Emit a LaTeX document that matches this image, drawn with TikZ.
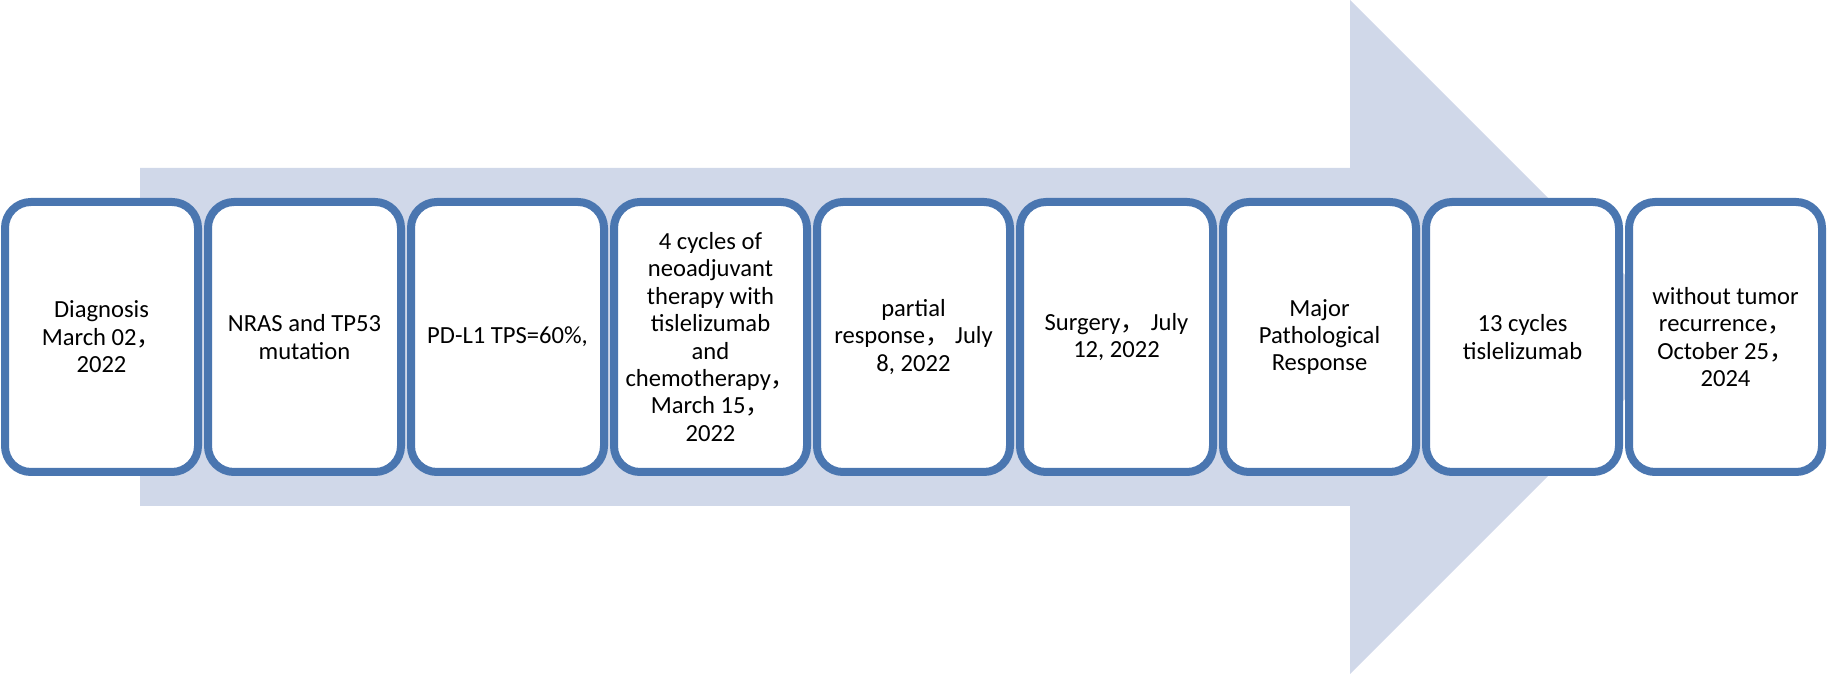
\documentclass[tikz,border=0pt]{standalone}
\usepackage{fontspec}
\setmainfont{Carlito}
\newfontfamily\cjk{Noto Sans CJK SC}
\usepackage{xcolor}
\usepackage{tikz}
\usetikzlibrary{shapes}
\definecolor{boxblue}{HTML}{4A76B0}
\definecolor{arrowfill}{HTML}{D0D8E9}
\def\fc{{\cjk ，}}
\tikzstyle{event} = [rectangle, rounded corners=13pt, minimum width=96.5pt, minimum height=135pt, draw=boxblue, line width=4pt, fill=white, align=center, inner sep=0pt, font=\fontsize{12.3}{13.7}\selectfont]
\tikzstyle{bigarrow} = [fill=arrowfill]

\begin{document}
\begin{tikzpicture}[x=1pt,y=1pt]
      \useasboundingbox (0,0) rectangle (915.5,337);
      %%%%%%%%%%%%%%%%%%%%%%%%%%%%%%%%%%%%%%%
      \fill[bigarrow] (70,84) -- (675,84) -- (675,0) -- (843.5,168.5)
            -- (675,337) -- (675,253) -- (70,253) -- cycle;
      %%%%%%%%%%%%%%%%%%%%%%%%%%%%%%%%%%%%%%%
      \draw (50.75,168.5) node (e1) [event] {Diagnosis\\March 02\fc\\2022};
      \draw (152.25,168.5) node (e2) [event] {NRAS and TP53\\mutation};
      \draw (253.75,168.5) node (e3) [event] {PD-L1 TPS=60\%,};
      \draw (355.25,168.5) node (e4) [event] {4 cycles of\\neoadjuvant\\therapy with\\tislelizumab\\and\\chemotherapy\fc\\March 15\fc\\2022};
      \draw (456.75,168.5) node (e5) [event] {partial\\response\fc\ July\\8, 2022};
      \draw (558.25,168.5) node (e6) [event] {Surgery\fc\ July\\12, 2022};
      \draw (659.75,168.5) node (e7) [event] {Major\\Pathological\\Response};
      \draw (761.25,168.5) node (e8) [event] {13 cycles\\tislelizumab};
      \draw (862.75,168.5) node (e9) [event] {without tumor\\recurrence\fc\\October 25\fc\\2024};
      %\draw (e1)--(e2);
\end{tikzpicture}
\end{document}
